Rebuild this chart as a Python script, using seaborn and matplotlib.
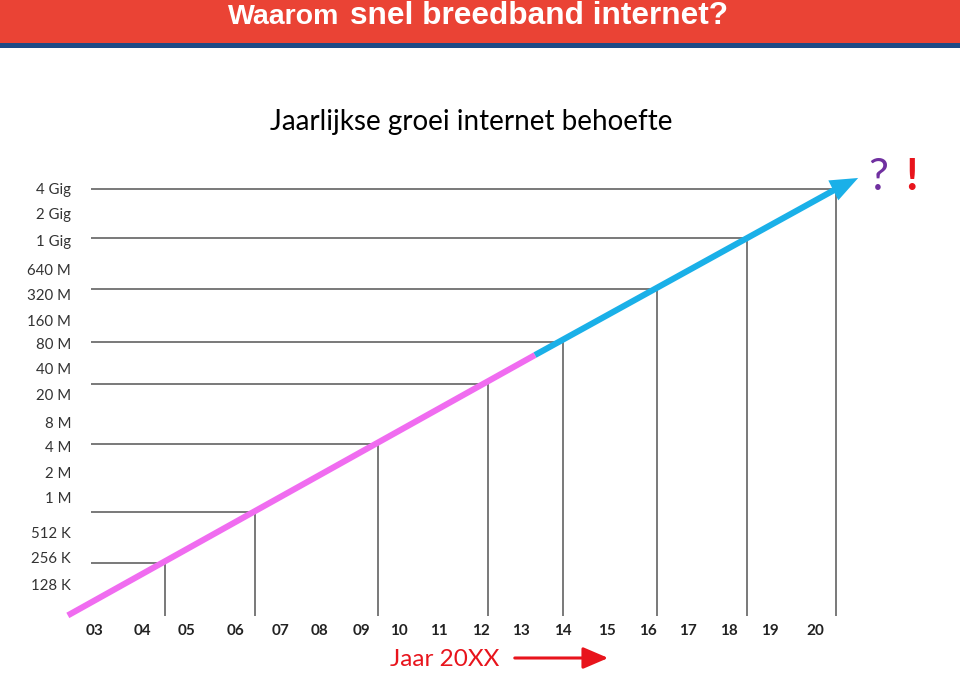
import numpy as np
import pandas as pd
import matplotlib
matplotlib.use("Agg")
import matplotlib.pyplot as plt
import seaborn as sns
from matplotlib.patches import Rectangle, FancyArrowPatch

# ---------------- data ----------------
year_labels = ["03", "04", "05", "06", "07", "08", "09", "10", "11", "12",
               "13", "14", "15", "16", "17", "18", "19", "20"]
bandwidth_labels = ["128 K", "256 K", "512 K", "1 M", "2 M", "4 M", "8 M",
                    "20 M", "40 M", "80 M", "160 M", "320 M", "640 M",
                    "1 Gig", "2 Gig", "4 Gig"]

# growth trend (years after 2000, bandwidth in Kbps)
past_years = [2.36, 13.39]
past_kbps = [56, 53000]
future_years = [13.39, 20.50]
future_kbps = [53000, 4194304]
arrow_tip_year = 21.02
arrow_tip_kbps = 5600000

# marked milestones on the trend (years after 2000, bandwidth in Kbps)
milestone_years = [4.65, 6.78, 9.68, 12.28, 14.05, 16.27, 18.40, 20.50]
milestone_kbps = [220, 850, 5100, 25000, 75000, 300000, 1150000, 4194304]

# ---------------- layout ----------------
xtick_pos = [3.0, 4.13, 5.17, 6.31, 7.37, 8.31, 9.30, 10.18, 11.12, 12.11,
             13.05, 14.04, 15.08, 16.05, 17.0, 17.97, 18.94, 20.0]
ytick_log2 = [7, 7.99, 8.97, 10.27, 11.25, 12.24, 13.15, 14.18, 15.17,
              16.15, 16.99, 17.98, 18.96, 20.03, 21.05, 22.0]
guide_start = 2.90
floor_kbps = 2 ** 5.785
top_kbps = 2 ** 22.72

PINK = "#f06cf0"
BLUE = "#1ab0e8"
GRAY = "#555555"
RED = "#e8141c"

sns.set_theme(style="white")
plt.rcParams["font.family"] = ["Lato", "DejaVu Sans"]

fig = plt.figure(figsize=(9.6, 6.92), dpi=100)
fig.patch.set_facecolor("white")

# header band
fig.patches.append(Rectangle((0, 1 - 43 / 692), 1, 43 / 692, transform=fig.transFigure,
                             facecolor="#ea4335", edgecolor="none", zorder=0))
fig.patches.append(Rectangle((0, 1 - 48 / 692), 1, 5 / 692, transform=fig.transFigure,
                             facecolor="#1d4a86", edgecolor="none", zorder=0))
fig.text(228 / 960, 1 - 24 / 692, "Waarom", color="white", fontsize=20.5, fontweight="bold",
         family=["Liberation Sans", "DejaVu Sans"], ha="left", va="baseline")
fig.text(350 / 960, 1 - 24 / 692, "snel breedband internet?", color="white", fontsize=22.8,
         fontweight="bold", family=["Liberation Sans", "DejaVu Sans"],
         ha="left", va="baseline")

fig.text(471 / 960, 1 - 122 / 692, "Jaarlijkse groei internet behoefte", color="black",
         fontsize=20, ha="center", va="center")

ax = fig.add_axes([78 / 960, 1 - 616 / 692, 800.5 / 960, 446 / 692])
ax.set_yscale("log", base=2)
ax.set_xlim(2.6, 21.5)
ax.set_ylim(floor_kbps, top_kbps)

# guide lines
ax.hlines(milestone_kbps, guide_start, milestone_years, color=GRAY, lw=1.1, zorder=2)
ax.vlines(milestone_years, floor_kbps, milestone_kbps, color=GRAY, lw=1.1, zorder=2)

trend = pd.DataFrame({
    "jaar": past_years + future_years,
    "kbps": past_kbps + future_kbps,
    "fase": ["tot nu"] * len(past_years) + ["toekomst"] * len(future_years),
})
sns.lineplot(data=trend, x="jaar", y="kbps", hue="fase", sort=False,
             palette={"tot nu": PINK, "toekomst": BLUE}, lw=4.4, legend=False,
             ax=ax, zorder=3, solid_capstyle="butt")
for ln in ax.lines:
    ln.set_clip_on(False)

ax.annotate("", xy=(arrow_tip_year, arrow_tip_kbps),
            xytext=(future_years[-1], future_kbps[-1]),
            arrowprops=dict(arrowstyle="-|>,head_length=0.5,head_width=0.2",
                            mutation_scale=40, color=BLUE, lw=0,
                            shrinkA=0, shrinkB=0),
            annotation_clip=False, zorder=4)

ax.set_xticks(xtick_pos)
ax.set_xticklabels(year_labels, fontsize=11, fontweight="bold", color="#222222")
ax.set_yticks([2 ** v for v in ytick_log2])
ax.set_yticklabels(bandwidth_labels, fontsize=10.8, color="#333333")
ax.yaxis.set_minor_locator(matplotlib.ticker.NullLocator())
ax.tick_params(axis="x", length=0, pad=6)
ax.tick_params(axis="y", length=0, pad=5)
ax.set_xlabel("")
ax.set_ylabel("")
for s in ax.spines.values():
    s.set_visible(False)
ax.grid(False)

# question / exclamation marks
fig.text(878 / 960, 1 - 177 / 692, "?", color="#7030a0", fontsize=32, ha="center", va="center")
fig.text(911 / 960, 1 - 177 / 692, "!", color=RED, fontsize=32, fontweight="bold",
         ha="center", va="center")

# x-axis caption with arrow
fig.text(445 / 960, 1 - 660 / 692, "Jaar 20XX", color=RED, fontsize=17.5, ha="center", va="center")
fig.patches.append(FancyArrowPatch(
    (512 / 960, 1 - 658 / 692), (611 / 960, 1 - 658 / 692), transform=fig.transFigure,
    arrowstyle="-|>,head_length=0.7,head_width=0.3", mutation_scale=22,
    color=RED, lw=2.2))

fig.savefig("out.png", dpi=100)
